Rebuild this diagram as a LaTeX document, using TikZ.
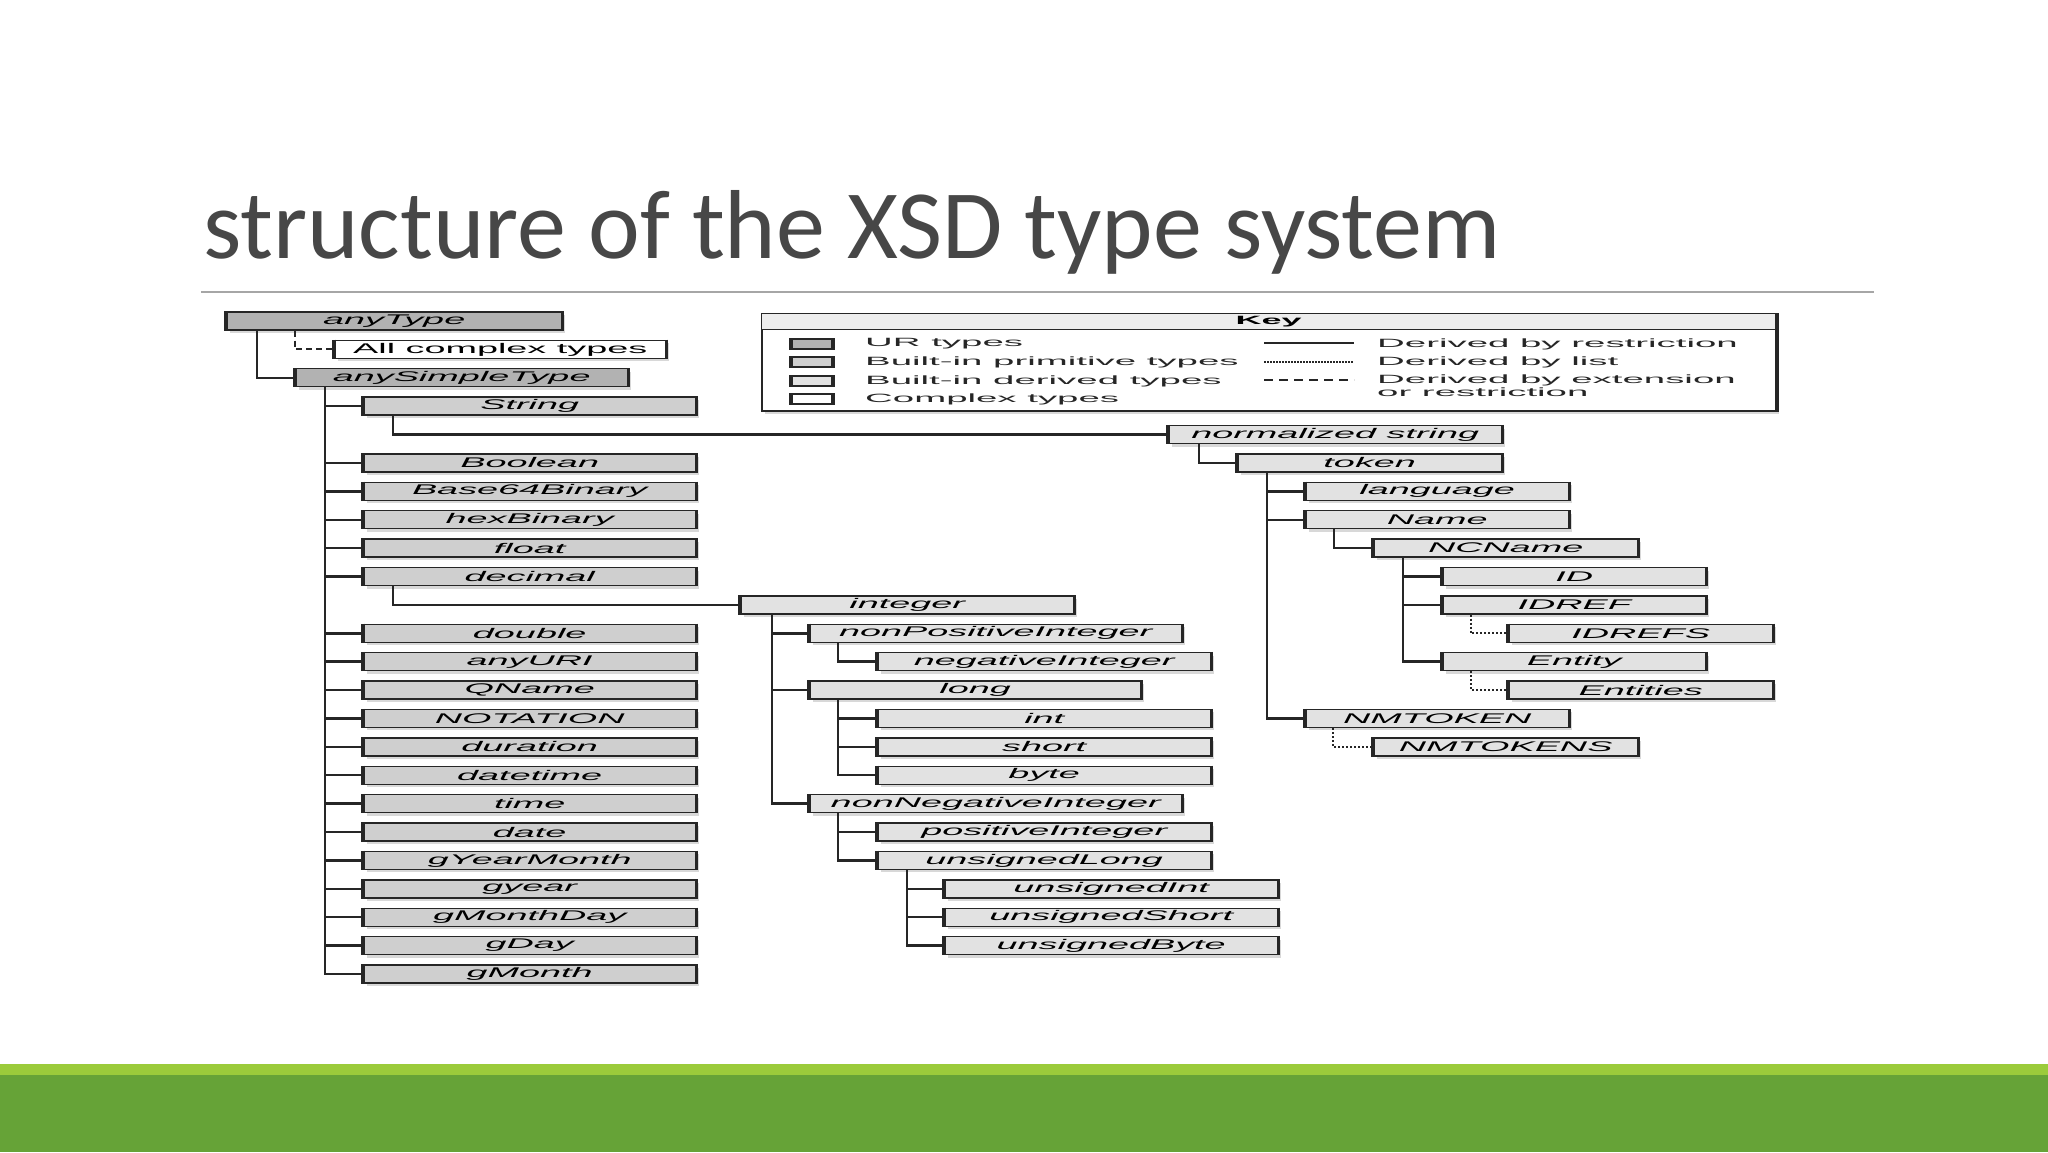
\documentclass[tikz,border=0pt]{standalone}
\usepackage{fontspec}
\setmainfont{Carlito}
\newfontfamily\hfont{Liberation Sans}
\usetikzlibrary{shadows}
\definecolor{urgray}{HTML}{B2B2B2}
\definecolor{primgray}{HTML}{CFCFCF}
\definecolor{dergray}{HTML}{E2E2E2}
\definecolor{titlegray}{HTML}{474747}
\definecolor{rulegray}{HTML}{A6A6A6}
\definecolor{lightgreen}{HTML}{9BCB3B}
\definecolor{darkgreen}{HTML}{66A337}
\definecolor{edgeblack}{HTML}{262626}
\newcommand\boxlbl[1]{\scalebox{2.7}[1]{\fontsize{14}{14}\selectfont\hfont\itshape #1}}
\newcommand\boxlblup[1]{\scalebox{2.7}[1]{\fontsize{14}{14}\selectfont\hfont #1}}
\newcommand\keylbl[1]{\scalebox{3.2}[1]{\fontsize{12}{12}\selectfont\hfont #1}}
\newcommand\keylblb[1]{\scalebox{3.0}[1]{\fontsize{12}{12}\selectfont\hfont\bfseries #1}}
\tikzset{
  sidebar/.style={draw=edgeblack, line width=3.5pt, line cap=butt},
  sidebars/.style={append after command={(\tikzlastnode.north west) edge[sidebar] (\tikzlastnode.south west)
                         (\tikzlastnode.north east) edge[sidebar] (\tikzlastnode.south east)}},
  xsdbox/.style={draw=edgeblack, line width=1.4pt, minimum height=18pt, inner sep=0pt, anchor=west,
    drop shadow={shadow xshift=3pt, shadow yshift=-3pt, opacity=0.25, fill=black!60}, sidebars},
  ur/.style={fill=urgray}, prim/.style={fill=primgray}, der/.style={fill=dergray}, cplx/.style={fill=white},
  restr/.style={draw=edgeblack, line width=2.4pt},
  listd/.style={draw=edgeblack, line width=2.2pt, dash pattern=on 2pt off 2pt},
  extd/.style={draw=edgeblack, line width=2.2pt, dash pattern=on 6pt off 4pt},
  swatch/.style={draw=edgeblack, line width=1.3pt, minimum width=41pt, minimum height=10pt, inner sep=0pt, sidebars},
  keytext/.style={anchor=west, inner sep=0pt, text=edgeblack},
}
% #1 name, #2 left, #3 right, #4 row, #5 fill style, #6 text
\newcommand\xb[6]{\node[xsdbox,#5,minimum width={#3-#2}] (#1) at (#2,{321+28.39*#4}) {#6};}
% [style] parent, x offset, child
\newcommand\cn[4][restr]{\draw[#1] ([xshift=#3pt]#2.south west) |- (#4.west);}
\begin{document}
\begin{tikzpicture}[x=1pt,y=-1pt]
\useasboundingbox (0,0) rectangle (2048,1152);
\fill[white] (0,0) rectangle (2048,1152);
% title
\node[anchor=base west, inner sep=0pt, text=titlegray, font=\fontsize{98}{98}\selectfont] (title) at (203,258) {structure of the XSD type system};
\coordinate (ruleL) at (201,292);
\coordinate (ruleR) at (1874,292);
\draw[rulegray, line width=1.6pt] (ruleL) -- (ruleR);
% footer band
\fill[lightgreen] (0,1064) rectangle (2048,1076);
\fill[darkgreen] (0,1075) rectangle (2048,1152);

% key
\node[draw=edgeblack, line width=2pt, fill=white, minimum width=1014pt, minimum height=97pt, inner sep=0pt, anchor=north west,
  drop shadow={shadow xshift=3pt, shadow yshift=-3pt, opacity=0.25, fill=black!60}] (key) at (761,313) {};
\node[draw=edgeblack, line width=1.2pt, fill=black!7, minimum width=1014pt, minimum height=16pt, inner sep=0pt, anchor=north west] (keyhead) at (761,313) {\keylblb{Key}};
\draw[sidebar] (key.north east) -- (key.south east);
\node[swatch, ur] (swur) at (812,344) {};
\node[swatch, prim] (swprim) at (812,362) {};
\node[swatch, der] (swder) at (812,381) {};
\node[swatch, cplx] (swcplx) at (812,399) {};
\node[keytext] (kur) at (865,344) {\keylbl{UR types}};
\node[keytext] (kprim) at (865,362) {\keylbl{Built-in primitive types}};
\node[keytext] (kder) at (865,381) {\keylbl{Built-in derived types}};
\node[keytext] (kcplx) at (865,399) {\keylbl{Complex types}};
\coordinate (lsa1) at (1264,343); \coordinate (lsb1) at (1354,343);
\coordinate (lsa2) at (1264,362); \coordinate (lsb2) at (1354,362);
\coordinate (lsa3) at (1264,380); \coordinate (lsb3) at (1354,380);
\draw[draw=edgeblack, line width=1.5pt] (lsa1) -- (lsb1);
\draw[draw=edgeblack, line width=1.5pt, dash pattern=on 1.5pt off 1.5pt] (lsa2) -- (lsb2);
\draw[draw=edgeblack, line width=1.8pt, dash pattern=on 9pt off 6pt] (lsa3) -- (lsb3);
\node[keytext] (krestr) at (1377,344) {\keylbl{Derived by restriction}};
\node[keytext] (klist) at (1377,362) {\keylbl{Derived by list}};
\node[keytext] (kext) at (1377,380) {\keylbl{Derived by extension}};
\node[keytext] (kext2) at (1377,392) {\keylbl{or restriction}};

% left column
\xb{anyType}{226}{561}{0}{ur}{\boxlbl{anyType}}
\xb{allcomplex}{334}{665}{1}{cplx}{\boxlblup{All complex types}}
\xb{anySimpleType}{295}{627}{2}{ur}{\boxlbl{anySimpleType}}
\cn{anyType}{31}{anySimpleType}
\cn[extd]{anyType}{69}{allcomplex}
\foreach \nm/\r in {String/3,Boolean/5,Base64Binary/6,hexBinary/7,float/8,decimal/9,double/11,anyURI/12,QName/13,NOTATION/14,duration/15,datetime/16,time/17,date/18,gYearMonth/19,gyear/20,gMonthDay/21,gDay/22,gMonth/23}{
  \xb{\nm}{363}{695}{\r}{prim}{\boxlbl{\nm}}
  \cn{anySimpleType}{30}{\nm}
}

% middle column
\xb{integer}{740}{1073}{10}{der}{\boxlbl{integer}}
\cn{decimal}{30}{integer}
\xb{nonPositiveInteger}{809}{1181}{11}{der}{\boxlbl{nonPositiveInteger}}
\xb{negativeInteger}{877}{1210}{12}{der}{\boxlbl{negativeInteger}}
\xb{long}{809}{1140}{13}{der}{\boxlbl{long}}
\xb{int}{877}{1210}{14}{der}{\boxlbl{int}}
\xb{short}{877}{1210}{15}{der}{\boxlbl{short}}
\xb{byte}{877}{1210}{16}{der}{\boxlbl{byte}}
\xb{nonNegativeInteger}{809}{1181}{17}{der}{\boxlbl{nonNegativeInteger}}
\xb{positiveInteger}{877}{1210}{18}{der}{\boxlbl{positiveInteger}}
\xb{unsignedLong}{877}{1210}{19}{der}{\boxlbl{unsignedLong}}
\xb{unsignedInt}{944}{1277}{20}{der}{\boxlbl{unsignedInt}}
\xb{unsignedShort}{944}{1277}{21}{der}{\boxlbl{unsignedShort}}
\xb{unsignedByte}{944}{1277}{22}{der}{\boxlbl{unsignedByte}}
\cn{integer}{32}{nonPositiveInteger}
\cn{integer}{32}{long}
\cn{integer}{32}{nonNegativeInteger}
\cn{nonPositiveInteger}{29}{negativeInteger}
\cn{long}{29}{int}
\cn{long}{29}{short}
\cn{long}{29}{byte}
\cn{nonNegativeInteger}{29}{positiveInteger}
\cn{nonNegativeInteger}{29}{unsignedLong}
\cn{unsignedLong}{30}{unsignedInt}
\cn{unsignedLong}{30}{unsignedShort}
\cn{unsignedLong}{30}{unsignedByte}

% right column
\xb{normstr}{1168}{1501}{4}{der}{\boxlbl{normalized string}}
\xb{token}{1237}{1501}{5}{der}{\boxlbl{token}}
\xb{language}{1305}{1568}{6}{der}{\boxlbl{language}}
\xb{Name}{1305}{1568}{7}{der}{\boxlbl{Name}}
\xb{NCName}{1373}{1637}{8}{der}{\boxlbl{NCName}}
\xb{ID}{1442}{1705}{9}{der}{\boxlbl{ID}}
\xb{IDREF}{1442}{1705}{10}{der}{\boxlbl{IDREF}}
\xb{IDREFS}{1508}{1772}{11}{der}{\boxlbl{IDREFS}}
\xb{Entity}{1442}{1705}{12}{der}{\boxlbl{Entity}}
\xb{Entities}{1508}{1772}{13}{der}{\boxlbl{Entities}}
\xb{NMTOKEN}{1305}{1568}{14}{der}{\boxlbl{NMTOKEN}}
\xb{NMTOKENS}{1373}{1637}{15}{der}{\boxlbl{NMTOKENS}}
\cn{String}{30}{normstr}
\cn{normstr}{31}{token}
\cn{token}{30}{language}
\cn{token}{30}{Name}
\cn{token}{30}{NMTOKEN}
\cn{Name}{29}{NCName}
\cn{NCName}{30}{ID}
\cn{NCName}{30}{IDREF}
\cn{NCName}{30}{Entity}
\cn[listd]{IDREF}{29}{IDREFS}
\cn[listd]{Entity}{29}{Entities}
\cn[listd]{NMTOKEN}{28}{NMTOKENS}
\end{tikzpicture}
\end{document}
